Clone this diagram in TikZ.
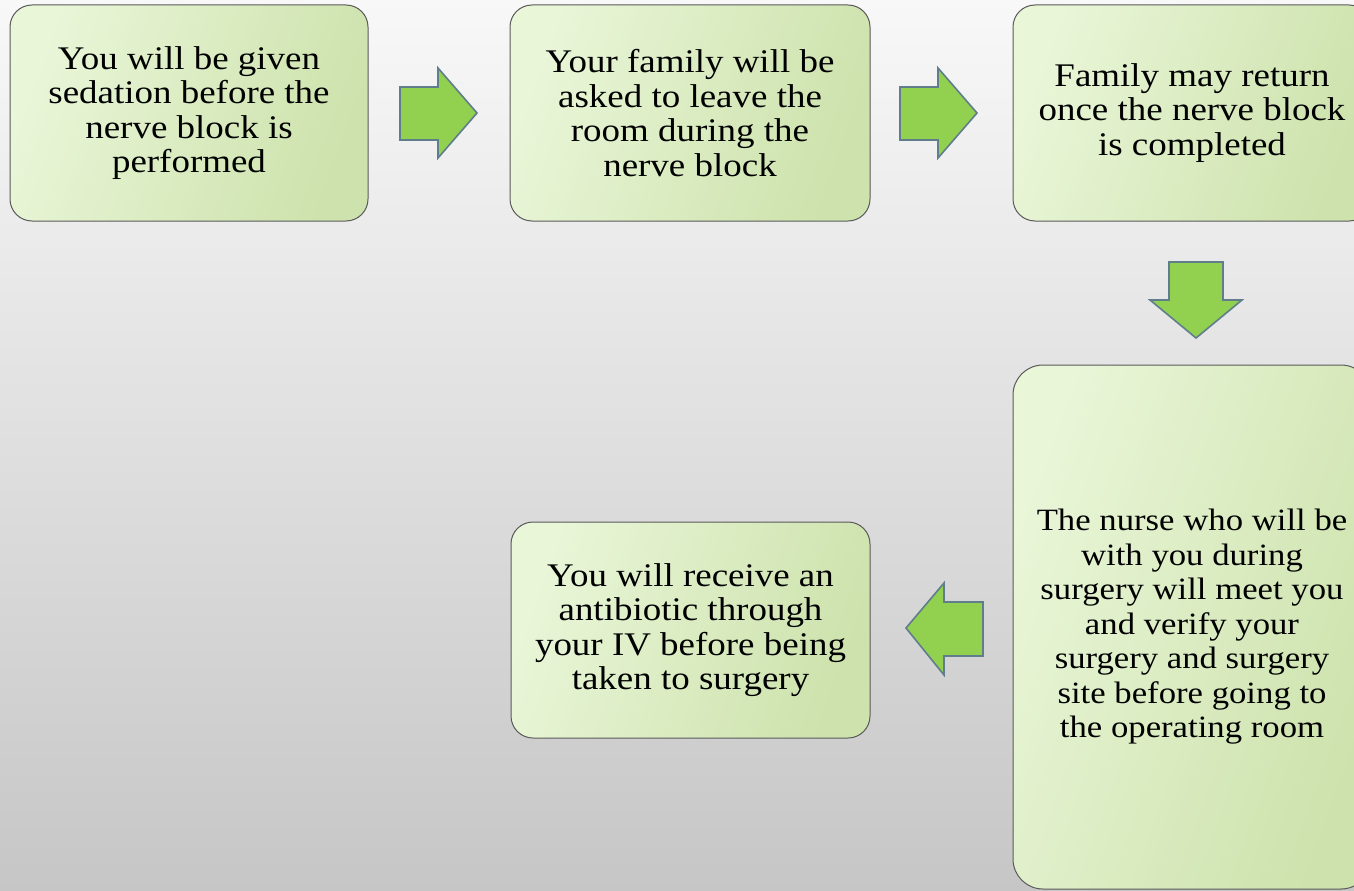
\documentclass[tikz,border=0pt]{standalone}
\usepackage{fontspec}
\setmainfont[FakeStretch=1.12]{Liberation Serif}
\usetikzlibrary{positioning}

\definecolor{bgtop}{RGB}{248,248,248}
\definecolor{bgbottom}{RGB}{198,198,198}
\definecolor{boxlight}{RGB}{233,246,216}
\definecolor{boxdark}{RGB}{205,226,172}
\definecolor{boxedge}{RGB}{90,90,90}
\definecolor{arrowfill}{RGB}{146,208,80}
\definecolor{arrowedge}{RGB}{96,125,139}

\tikzset{
  stepbox/.style={
    rectangle, rounded corners=22pt, draw=boxedge, line width=1pt,
    left color=boxlight, right color=boxdark,
    shading angle=70,
    align=center, inner sep=0pt,
    font=\fontsize{33}{34.5}\selectfont
  },
  blockarrow/.style={fill=arrowfill, draw=arrowedge, line width=1.6pt, line join=miter}
}

\begin{document}
\begin{tikzpicture}[x=1pt,y=-1pt]
  % page frame and background
  \useasboundingbox (0,0) rectangle (1354,891);
  \clip (0,0) rectangle (1354,891);
  \shade[top color=bgtop, bottom color=bgbottom] (0,0) rectangle (1354,891);

  % process steps
  \node[stepbox, minimum width=358pt, minimum height=216pt] (s1) at (189,113)
    {You will be given\\sedation before the\\nerve block is\\performed};
  \node[stepbox, minimum width=360pt, minimum height=216pt] (s2) at (690,113)
    {Your family will be\\asked to leave the\\room during the\\nerve block};
  \node[stepbox, minimum width=358pt, minimum height=216pt] (s3) at (1192,113)
    {Family may return\\once the nerve block\\is completed};
  \node[stepbox, rounded corners=30pt, minimum width=358pt, minimum height=524pt,
        font=\fontsize{31}{34.5}\selectfont] (s4) at (1192,627)
    {The nurse who will be\\with you during\\surgery will meet you\\and verify your\\surgery and surgery\\site before going to\\the operating room};
  \node[stepbox, minimum width=359pt, minimum height=216pt] (s5) at (690.5,630)
    {You will receive an\\antibiotic through\\your IV before being\\taken to surgery};

  % block arrows between the steps
  \draw[blockarrow] (400,87) -- (438,87) -- (438,68) -- (477,113) -- (438,158) -- (438,140) -- (400,140) -- cycle;
  \draw[blockarrow] (900,87) -- (938,87) -- (938,68) -- (977,113) -- (938,158) -- (938,140) -- (900,140) -- cycle;
  \draw[blockarrow] (1169,262) -- (1223,262) -- (1223,300) -- (1242,300) -- (1196,338) -- (1150,300) -- (1169,300) -- cycle;
  \draw[blockarrow] (983,602) -- (944,602) -- (944,583) -- (906,628) -- (944,675) -- (944,656) -- (983,656) -- cycle;
\end{tikzpicture}
\end{document}
